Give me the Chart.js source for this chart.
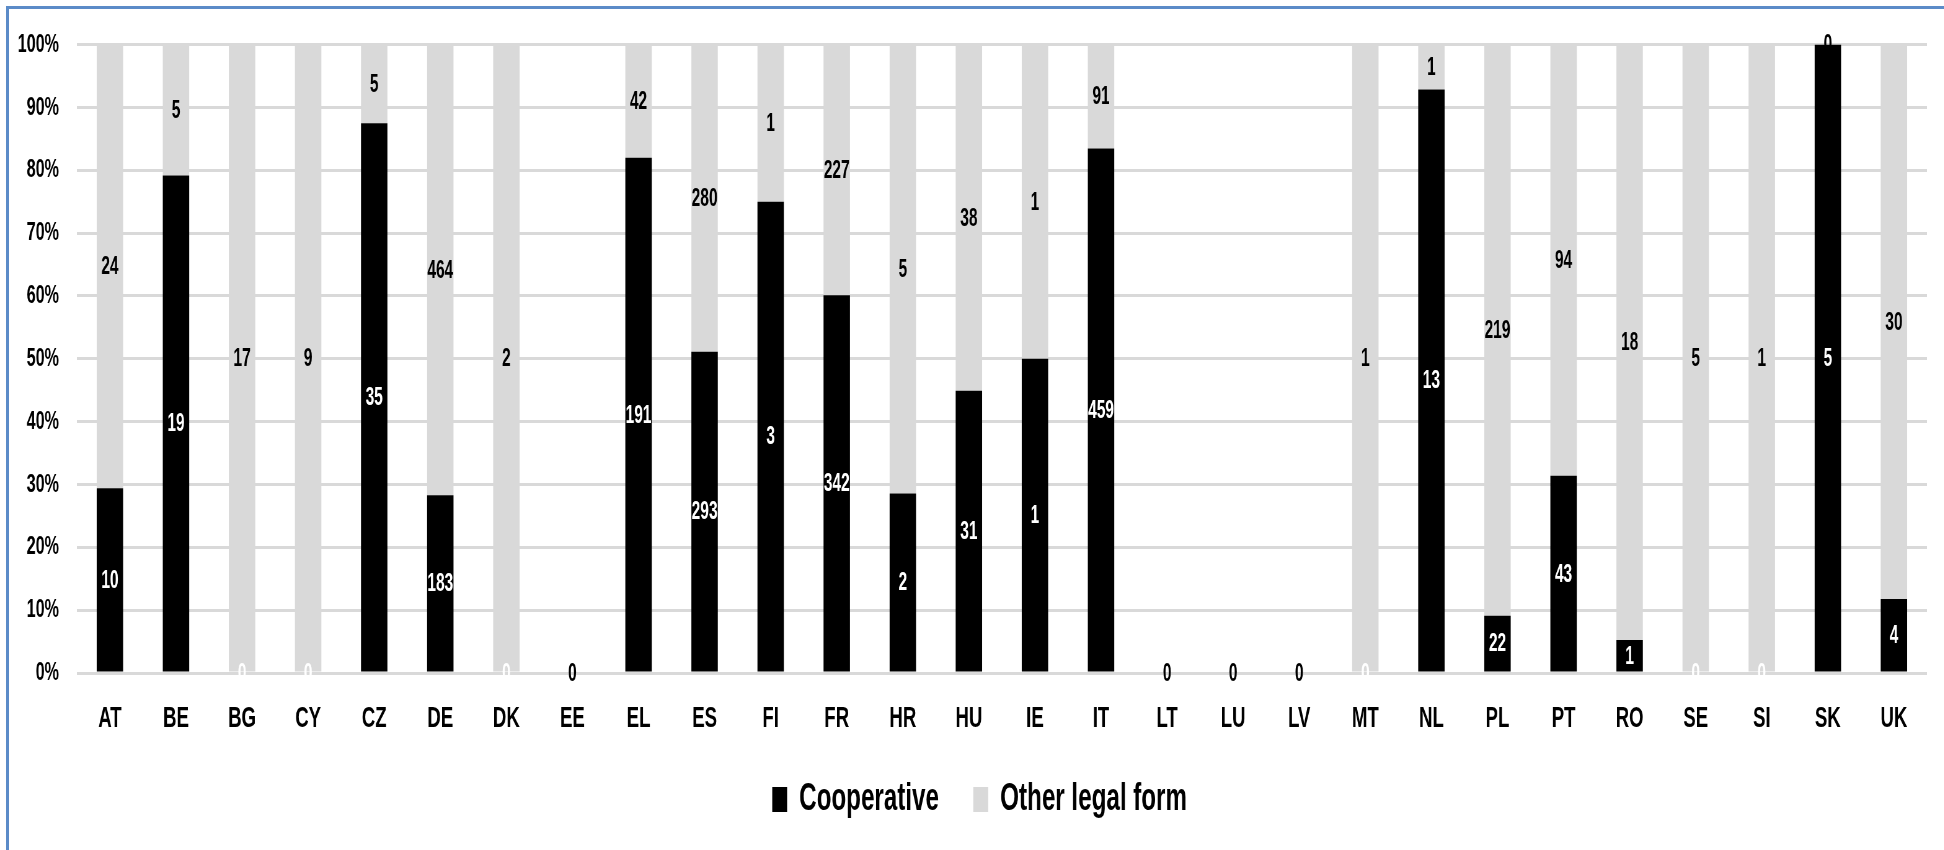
<!DOCTYPE html>
<html>
<head>
<meta charset="utf-8">
<script src="https://cdn.jsdelivr.net/npm/chart.js@4"></script>
<style>
  body { margin: 0; background: #fff; }
  #wrap { position: relative; width: 1944px; height: 850px; overflow: hidden; }
  #myChart { display: block; transform-origin: 0 0; }
  #frameTop { position: absolute; left: 6px; top: 6px; width: 1938px; height: 3px; background: #5b8bc8; }
  #frameLeft { position: absolute; left: 6px; top: 6px; width: 3px; height: 844px; background: #5b8bc8; }
</style>
</head>
<body>
<div id="wrap">
  <canvas id="myChart"></canvas>
  <div id="frameTop"></div>
  <div id="frameLeft"></div>
</div>
<script>
var countries = ['AT','BE','BG','CY','CZ','DE','DK','EE','EL','ES','FI','FR','HR','HU','IE','IT','LT','LU','LV','MT','NL','PL','PT','RO','SE','SI','SK','UK'];
var cooperative = [10,19,0,0,35,183,0,0,191,293,3,342,2,31,1,459,0,0,0,0,13,22,43,1,0,0,5,4];
var otherForm = [24,5,17,9,5,464,2,0,42,280,1,227,5,38,1,91,0,0,0,1,1,219,94,18,5,1,0,30];
var seriesNames = ['Cooperative','Other legal form'];

var FONT = "'Liberation Sans', Arial, sans-serif";

// the original uses a very narrow bold font, so the whole canvas is drawn wider and squeezed back
var SQUEEZE = 0.62;
var canvas = document.getElementById('myChart');
canvas.width = Math.round(1944 / SQUEEZE);
canvas.height = 850;
canvas.style.transform = 'scaleX(' + SQUEEZE + ')';

// 100% stacked: turn counts into shares of each country's total
function share(a, b){
    var out = [];
    for (let i in a){
        var tot = a[i] + b[i];
        out.push(tot ? a[i] / tot * 100 : 0);
    }
    return out;
}

var rawCounts = [cooperative, otherForm];
var labelColors = ['#ffffff', '#000000'];

var valueLabels = {
    id: 'valueLabels',
    afterDatasetsDraw(chart){
        var ctx = chart.ctx;
        ctx.save();
        ctx.font = 'bold 25px ' + FONT;
        ctx.textAlign = 'center';
        ctx.textBaseline = 'middle';
        chart.data.datasets.forEach(function(ds, i){
            var meta = chart.getDatasetMeta(i);
            meta.data.forEach(function(bar, j){
                ctx.fillStyle = labelColors[i];
                ctx.fillText(String(rawCounts[i][j]), bar.x, (bar.y + bar.base) / 2 + 1);
            });
        });
        ctx.restore();
    }
};

// legend sits a little right of the canvas centre in the original
var legendNudge = {
    id: 'legendNudge',
    afterLayout(chart){
        chart.legend.left += 26;
        chart.legend.right += 26;
    }
};

var config = {
    type: 'bar',
    data: {
        labels: countries,
        datasets: [{
            label: seriesNames[0],
            data: share(cooperative, otherForm),
            backgroundColor: '#000000',
            barPercentage: 0.4,
            categoryPercentage: 1
        }, {
            label: seriesNames[1],
            data: share(otherForm, cooperative),
            backgroundColor: '#d9d9d9',
            barPercentage: 0.4,
            categoryPercentage: 1
        }]
    },
    options: {
        responsive: false,
        animation: false,
        layout: { padding: { left: 0, right: 27, top: 44, bottom: 21 } },
        scales: {
            x: {
                stacked: true,
                grid: { display: false, drawTicks: false },
                border: { display: false },
                ticks: { color: '#000', padding: 28, font: { family: FONT, size: 30, weight: 'bold' } },
                afterFit: function(s){ s.height = 95; }
            },
            y: {
                stacked: true,
                min: 0,
                max: 100,
                grid: { color: '#d9d9d9', lineWidth: 3, drawTicks: false },
                border: { display: false },
                ticks: {
                    stepSize: 10,
                    color: '#000',
                    padding: 29,
                    font: { family: FONT, size: 26, weight: 'bold' },
                    callback: function(v){ return v + '%'; }
                },
                afterFit: function(s){ s.width = 124; }
            }
        },
        plugins: {
            legend: {
                position: 'bottom',
                labels: {
                    color: '#000',
                    boxWidth: 24,
                    boxHeight: 25,
                    padding: 12,
                    font: { family: FONT, size: 39, weight: 'bold' },
                    generateLabels: function(chart){
                        var items = Chart.defaults.plugins.legend.labels.generateLabels(chart);
                        items[0].text = items[0].text + '    ';
                        return items;
                    }
                }
            },
            tooltip: { enabled: false }
        }
    },
    plugins: [valueLabels, legendNudge]
};

var myChart = new Chart(canvas, config);
</script>
</body>
</html>
